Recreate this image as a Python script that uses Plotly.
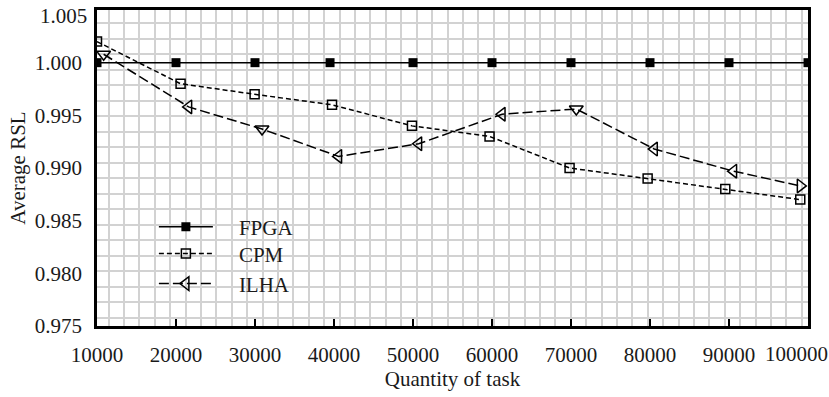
import plotly.graph_objects as go

# ---- data ----
fpga_x = [10000, 20000, 30000, 39500, 50000, 60000, 70000, 80000, 90000, 100000]
fpga_y = [1.000, 1.000, 1.000, 1.000, 1.000, 1.000, 1.000, 1.000, 1.000, 1.000]

cpm_x = [10000, 20580, 29950, 39750, 49870, 59690, 69820, 79700, 89530, 99020]
cpm_y = [1.0020, 0.9980, 0.9970, 0.9960, 0.9940, 0.9930, 0.9900, 0.9890, 0.9880, 0.9870]

ilha_x = [10840, 21600, 30890, 40580, 50710, 61270, 70670, 80540, 90580, 99030]
ilha_y = [1.0008, 0.9958, 0.9937, 0.9911, 0.9923, 0.9951, 0.9956, 0.9918, 0.9897, 0.9883]
ilha_symbols = ["triangle-down-open", "triangle-left-open", "triangle-down-open",
                "triangle-left-open", "triangle-left-open", "triangle-left-open",
                "triangle-down-open", "triangle-left-open", "triangle-left-open",
                "triangle-right-open"]

x_ticks = [10000, 20000, 30000, 40000, 50000, 60000, 70000, 80000, 90000, 100000]
x_ticktext = ["10000", "20000", "30000", "40000", "50000", "60000", "70000",
              "80000", "90000", "100000"]
y_ticks = [0.975, 0.980, 0.985, 0.990, 0.995, 1.000, 1.005]
y_ticktext = ["0.975", "0.980", "0.985", "0.990", "0.995", "1.000", "1.005"]

FONT = "Liberation Serif, Times New Roman, serif"
INK = "#1a1a1a"
FS = 21
NB = "\u00a0"

fig = go.Figure()
fig.add_trace(go.Scatter(
    x=fpga_x, y=fpga_y, name=NB * 4 + "FPGA", mode="lines+markers", legend="legend",
    line=dict(color="black", width=1.5),
    marker=dict(symbol="square", size=9, color="black")))
fig.add_trace(go.Scatter(
    x=cpm_x, y=cpm_y, name=NB * 4 + "CPM", mode="lines+markers", legend="legend2",
    line=dict(color="black", width=1.5, dash="5px,3px"),
    marker=dict(symbol="square-open", size=9, color="black", line=dict(width=1.5))))
fig.add_trace(go.Scatter(
    x=ilha_x, y=ilha_y, name="ILHA", mode="lines+markers", showlegend=False,
    line=dict(color="black", width=1.5, dash="10px,4px"),
    marker=dict(symbol=ilha_symbols, size=12, color="black", line=dict(width=1.5))))
# legend entry for ILHA (legend proxy, no data points)
fig.add_trace(go.Scatter(
    x=[None], y=[None], name=NB * 4 + "ILHA", mode="lines+markers", legend="legend3",
    line=dict(color="black", width=1.5, dash="10px,4px"),
    marker=dict(symbol="triangle-left-open", size=12, color="black", line=dict(width=1.5))))

leg_common = dict(xanchor="left", yanchor="middle", bgcolor="rgba(0,0,0,0)", borderwidth=0,
                  font=dict(family=FONT, size=FS, color=INK), itemwidth=54)

fig.update_layout(
    width=829, height=397,
    margin=dict(l=97, r=21, t=10, b=71),
    paper_bgcolor="white", plot_bgcolor="white",
    font=dict(family=FONT, size=FS, color=INK),
    showlegend=True,
    legend=dict(x=0.080, y=0.313, **leg_common),
    legend2=dict(x=0.080, y=0.228, **leg_common),
    legend3=dict(x=0.080, y=0.133, **leg_common),
)
fig.update_xaxes(
    range=[10000, 100000], tickvals=x_ticks, ticktext=x_ticktext[:-1] + [""],
    showgrid=False, zeroline=False, automargin=False,
    showline=True, linecolor="black", linewidth=2.5, mirror=True,
    ticks="inside", ticklen=7, tickwidth=1.5, tickcolor="black",
    ticklabelstandoff=8,
    title=dict(text="Quantity of task", standoff=4, font=dict(size=FS)),
    minor=dict(tick0=11468, dtick=1950, showgrid=True, gridcolor="#d2d2d2", gridwidth=2, ticks=""),
)
fig.update_yaxes(
    range=[0.975, 1.005], tickvals=y_ticks, ticktext=y_ticktext[:-1] + [""],
    showgrid=False, zeroline=False, automargin=False,
    showline=True, linecolor="black", linewidth=2.5, mirror=True,
    ticks="", ticklabelstandoff=8,
    title=dict(text="Average RSL", standoff=4, font=dict(size=FS)),
    minor=dict(tick0=0.97579, dtick=0.00147, showgrid=True, gridcolor="#d2d2d2", gridwidth=2, ticks=""),
)

# edge tick labels placed inside the page, as in the reference
fig.add_annotation(text=y_ticktext[-1], xref="paper", yref="paper", x=0, y=1,
                   xanchor="right", yanchor="middle", xshift=-8, yshift=-6,
                   showarrow=False, font=dict(family=FONT, size=FS, color=INK))
fig.add_annotation(text=x_ticktext[-1], xref="paper", yref="paper", x=1, y=0,
                   xanchor="center", yanchor="middle", xshift=-12, yshift=-28,
                   showarrow=False, font=dict(family=FONT, size=FS, color=INK))

fig.write_html("out.html")
